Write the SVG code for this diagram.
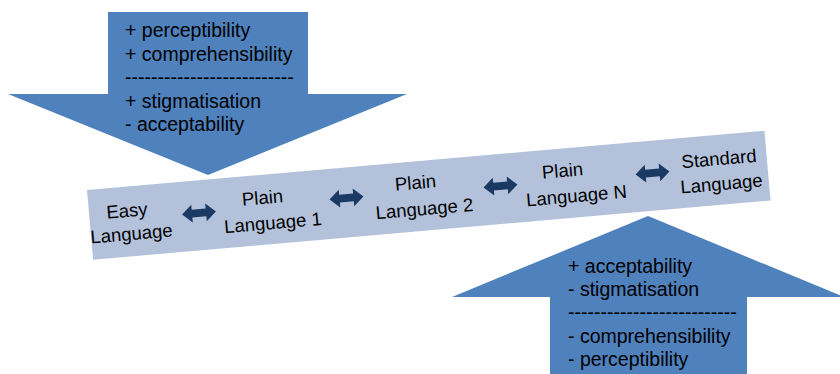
<svg xmlns="http://www.w3.org/2000/svg" width="840" height="374" viewBox="0 0 840 374">
<style>
.big{fill:#4F81BD}
.band{fill:#B3C2DA}
.t{font-family:"Liberation Sans",Arial,sans-serif;fill:#000}
.at{font-size:19.5px}
.bt{font-size:18.5px;text-anchor:middle}
.dbl{fill:#1B3A63}
</style>
<defs>
<path id="dbl" d="M-17,0 L-7,-9 L-7,-4 L7,-4 L7,-9 L17,0 L7,9 L7,4 L-7,4 L-7,9 Z"/>
</defs>
<rect width="840" height="374" fill="#fff"/>
<g id="down-arrow">
<polygon class="big" points="108,12 308,12 308,94 407,94 208,175 8,94 108,94"/>
<text class="t at" x="125" y="37">+ perceptibility</text>
<text class="t at" x="125" y="61">+ comprehensibility</text>
<text class="t at" x="125" y="84">--------------------------</text>
<text class="t at" x="125" y="108">+ stigmatisation</text>
<text class="t at" x="125" y="131">- acceptability</text>
</g>
<g id="up-arrow">
<polygon class="big" points="648,216 844,297 747,297 747,380 550,380 550,297 452,297"/>
<text class="t at" x="568" y="273">+ acceptability</text>
<text class="t at" x="568" y="296">- stigmatisation</text>
<text class="t at" x="568" y="319">--------------------------</text>
<text class="t at" x="568" y="343">- comprehensibility</text>
<text class="t at" x="568" y="366">- perceptibility</text>
</g>
<g id="band">
<rect class="band" x="87" y="190" width="680" height="70" transform="rotate(-5 87 190)"/>
</g>
<g id="easy-language">
<text class="t bt" x="127.5" y="217" transform="rotate(-5 127.5 217)">Easy</text>
<text class="t bt" x="132" y="240" transform="rotate(-5 132 240)">Language</text>
</g>
<g id="plain-language-1">
<text class="t bt" x="263" y="204" transform="rotate(-5 263 204)">Plain</text>
<text class="t bt" x="273.5" y="229" transform="rotate(-5 273.5 229)">Language 1</text>
</g>
<g id="plain-language-2">
<text class="t bt" x="416" y="189" transform="rotate(-5 416 189)">Plain</text>
<text class="t bt" x="425" y="215" transform="rotate(-5 425 215)">Language 2</text>
</g>
<g id="plain-language-n">
<text class="t bt" x="563" y="177" transform="rotate(-5 563 177)">Plain</text>
<text class="t bt" x="577" y="202" transform="rotate(-5 577 202)">Language N</text>
</g>
<g id="standard-language">
<text class="t bt" x="719.5" y="165" transform="rotate(-5 719.5 165)">Standard</text>
<text class="t bt" x="722" y="190" transform="rotate(-5 722 190)">Language</text>
</g>
<g id="connectors">
<use href="#dbl" class="dbl" transform="translate(199 213) rotate(-5)"/>
<use href="#dbl" class="dbl" transform="translate(346.5 198) rotate(-5)"/>
<use href="#dbl" class="dbl" transform="translate(500.5 186) rotate(-5)"/>
<use href="#dbl" class="dbl" transform="translate(652.5 173) rotate(-5)"/>
</g>
</svg>
